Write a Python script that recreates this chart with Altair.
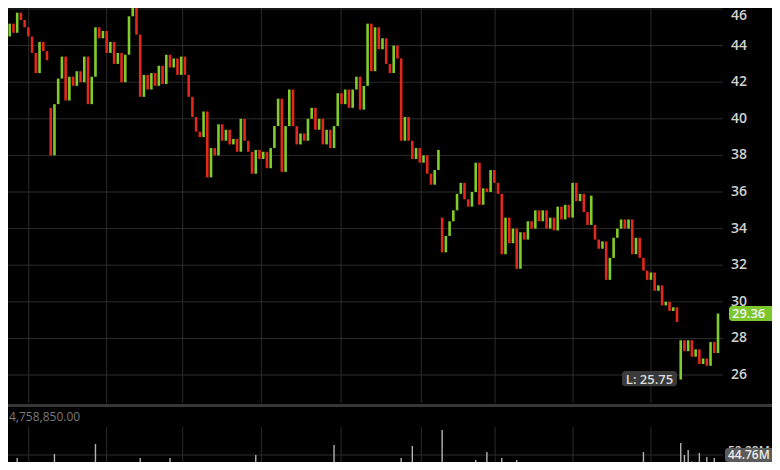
import altair as alt
import pandas as pd

# ---- data -------------------------------------------------------------
closes = [
    44.5, 45.2, 44.7, 45.8, 45.4, 45.0, 44.5, 43.6, 42.5, 44.2, 43.7, 43.2,
    38.0, 40.8, 42.2, 43.4, 41.0, 42.3, 41.8, 42.6, 42.0, 43.4, 40.8, 42.3,
    45.0, 44.4, 44.8, 43.6, 44.2, 43.0, 43.6, 42.0, 43.5, 45.6, 46.4, 44.6,
    41.2, 42.4, 41.6, 42.5, 41.8, 42.9, 41.9, 43.5, 42.8, 43.3, 42.4, 43.4,
    42.4, 41.2, 40.1, 39.3, 39.0, 40.4, 36.8, 38.4, 38.0, 39.7, 38.8, 39.4,
    38.6, 38.9, 38.2, 40.0, 38.8, 38.2, 37.0, 38.3, 37.8, 38.2, 37.3, 38.4,
    39.6, 41.1, 37.1, 39.6, 41.6, 39.6, 38.6, 39.2, 38.8, 40.0, 40.6, 39.4,
    40.0, 38.6, 39.4, 38.4, 39.6, 41.4, 40.8, 41.6, 40.6, 41.6, 42.3, 40.5,
    41.8, 45.2, 42.6, 45.0, 43.8, 44.4, 43.0, 42.5, 44.0, 43.3, 38.8, 40.1,
    38.8, 37.8, 38.4, 37.6, 38.0, 37.0, 36.4, 37.2, 38.3, 32.7, 33.6, 34.4,
    35.0, 35.9, 36.5, 35.6, 35.2, 36.0, 37.6, 35.3, 36.2, 36.0, 37.2, 36.5,
    35.9, 32.6, 34.6, 33.2, 34.0, 31.8, 33.8, 33.4, 34.4, 34.0, 35.0, 34.4,
    35.0, 34.0, 34.6, 33.9, 35.2, 34.5, 35.3, 34.6, 36.5, 35.5, 35.9, 34.9,
    34.2, 35.8, 33.4, 32.9, 33.3, 31.2, 32.4, 33.5, 34.0, 34.5, 34.0, 34.5,
    32.6, 33.5, 32.4, 31.7, 31.2, 31.6, 30.6, 30.9, 29.8, 30.0, 29.5, 29.7,
    28.9, 27.9, 27.3, 27.9, 27.0, 27.4, 26.6, 26.9, 26.5, 27.8, 27.2, 29.36,
]
# sessions that opened away from the previous close (gaps)
gap_index = [0, 12, 117, 158, 181]
gap_open = [45.0, 40.6, 34.6, 34.2, 25.75]

volumes = [
    30, 27, 33, 49.9, 31, 28, 26, 34, 32, 29, 27, 35,
    38, 53.1, 36, 30, 33, 29, 27, 31, 28, 30, 34, 29,
    61.1, 38, 32, 28, 30, 27, 29, 33, 35, 38, 40, 34,
    49.9, 35, 30, 28, 31, 29, 27, 30, 49.9, 32, 28, 30,
    29, 31, 33, 30, 28, 34, 44.2, 36, 31, 29, 30, 28,
    27, 30, 29, 31, 28, 30, 35, 52.3, 33, 29, 31, 30,
    29, 32, 36, 31, 33, 30, 28, 27, 29, 31, 30, 28,
    29, 31, 33, 35, 60.3, 36, 31, 29, 30, 28, 31, 33,
    30, 35, 42.6, 36, 33, 31, 29, 30, 32, 31, 49.9, 38,
    35, 59.5, 33, 31, 30, 32, 34, 31, 33, 72.4, 46.7, 36,
    33, 31, 30, 32, 29, 31, 48.3, 35, 33, 54.7, 31, 30,
    33, 49.9, 38, 33, 31, 48.3, 35, 32, 30, 29, 31, 30,
    28, 31, 30, 29, 32, 30, 46.7, 31, 33, 30, 29, 31,
    30, 33, 38, 45.8, 35, 39, 33, 31, 30, 29, 31, 30,
    36, 33, 35, 54.7, 33, 35, 34, 36, 38, 35, 37, 39,
    40, 61.9, 52.3, 56.3, 47, 45, 53.9, 46, 50.7, 44, 49.9, 44.76,
]

month_lines = [6.1, 27.0, 47.4, 68.5, 89.9, 111.4, 131.2, 152.1, 173.0]
price_ticks = [26, 28, 30, 32, 34, 36, 38, 40, 42, 44]
top_tick = [46]
last_price = 29.36
low_price = 25.75
vol_grid = [52.28]
vol_grid_label = ["52.28M"]
last_vol_label = "44.76M"
vol_header = "4,758,850.00"

# ---- build table ----------------------------------------------------------
gaps = dict(zip(gap_index, gap_open))
rows = []
prev = None
for i, c in enumerate(closes):
    o = gaps.get(i, prev)
    rows.append({"i": i, "open": o, "close": c,
                 "dir": "up" if c >= o else "down", "vol": volumes[i]})
    prev = c
df = pd.DataFrame(rows)

GREEN = "#80cc2a"
RED = "#e3271b"
GRID = "#2c2c2c"
LABEL = "#d2d2d2"
FONT = "Open Sans"

xs = alt.Scale(domain=[0, 191], range=[-7, 715], nice=False, zero=False)
ps = alt.Scale(domain=[26, 46], range=[367, 1], nice=False, zero=False)
vs = alt.Scale(domain=[0, 52.28], range=[512, 447], nice=False, zero=False)

one = pd.DataFrame({"a": [0]})
all_ticks = price_ticks + top_tick

price_grid = alt.Chart(pd.DataFrame({"p": all_ticks})).mark_rule(
    color=GRID, strokeWidth=1).encode(
    y=alt.Y("p:Q", scale=ps, axis=None), x=alt.value(0), x2=alt.value(715))

month_top = alt.Chart(pd.DataFrame({"m": month_lines})).mark_rule(
    color=GRID, strokeWidth=1).encode(
    x=alt.X("m:Q", scale=xs, axis=None), y=alt.value(0), y2=alt.value(395))

month_bot = alt.Chart(pd.DataFrame({"m": month_lines})).mark_rule(
    color=GRID, strokeWidth=1).encode(
    x=alt.X("m:Q", scale=xs, axis=None), y=alt.value(419), y2=alt.value(454))

vgrid = alt.Chart(pd.DataFrame({"v": vol_grid})).mark_rule(
    color=GRID, strokeWidth=1).encode(
    y=alt.Y("v:Q", scale=vs, axis=None), x=alt.value(0), x2=alt.value(715))

separator = alt.Chart(one).mark_rect(color="#383838").encode(
    x=alt.value(0), x2=alt.value(764), y=alt.value(396), y2=alt.value(399))

candles = alt.Chart(df).mark_bar(width=2.6, clip=True).encode(
    x=alt.X("i:Q", scale=xs, axis=None),
    y=alt.Y("open:Q", scale=ps, axis=None),
    y2="close:Q",
    color=alt.Color("dir:N", scale=alt.Scale(domain=["up", "down"], range=[GREEN, RED]),
                    legend=None),
)

vol_bars = alt.Chart(df).mark_bar(width=1.4, color="#b4b4b4", clip=True).encode(
    x=alt.X("i:Q", scale=xs, axis=None),
    y=alt.Y("vol:Q", scale=vs, axis=None),
    y2=alt.datum(0),
)

price_labels = alt.Chart(pd.DataFrame({"p": price_ticks, "t": [str(v) for v in price_ticks]})).mark_text(
    align="left", baseline="middle", fontSize=14, fontWeight=600, font=FONT, color=LABEL).encode(
    y=alt.Y("p:Q", scale=ps, axis=None), x=alt.value(723), text="t:N")

top_label = alt.Chart(pd.DataFrame({"p": top_tick, "t": [str(v) for v in top_tick]})).mark_text(
    align="left", baseline="top", fontSize=14, fontWeight=600, font=FONT, color=LABEL).encode(
    y=alt.Y("p:Q", scale=ps, axis=None), x=alt.value(723), text="t:N")

vol_label = alt.Chart(pd.DataFrame({"v": vol_grid, "t": vol_grid_label})).mark_text(
    align="left", baseline="middle", fontSize=12, fontWeight=600, font=FONT, color=LABEL, dy=-4).encode(
    y=alt.Y("v:Q", scale=vs, axis=None), x=alt.value(720), text="t:N")

header = alt.Chart(pd.DataFrame({"t": [vol_header]})).mark_text(
    align="left", baseline="middle", fontSize=12, font=FONT, color="#7a7a7a").encode(
    x=alt.value(1), y=alt.value(409), text="t:N")

last_box = alt.Chart(pd.DataFrame({"top": [last_price + 0.41], "bot": [last_price - 0.41]})).mark_rect(
    color="#7cc72c", cornerRadius=3).encode(
    y=alt.Y("top:Q", scale=ps, axis=None), y2="bot:Q", x=alt.value(721), x2=alt.value(772))

last_text = alt.Chart(pd.DataFrame({"p": [last_price], "t": [f"{last_price:.2f}"]})).mark_text(
    align="left", baseline="middle", fontSize=13, fontWeight=600, font=FONT, color="#f4f4f4").encode(
    y=alt.Y("p:Q", scale=ps, axis=None), x=alt.value(724), text="t:N")

low_box = alt.Chart(pd.DataFrame({"top": [low_price + 0.47], "bot": [low_price - 0.37]})).mark_rect(
    color="#3a3a3a", cornerRadius=3).encode(
    y=alt.Y("top:Q", scale=ps, axis=None), y2="bot:Q", x=alt.value(614), x2=alt.value(669))

low_text = alt.Chart(pd.DataFrame({"p": [low_price], "t": [f"L: {low_price:.2f}"]})).mark_text(
    align="center", baseline="middle", fontSize=13, fontWeight=600, font=FONT, color="#dcdcdc").encode(
    y=alt.Y("p:Q", scale=ps, axis=None), x=alt.value(641.5), text="t:N")

vol_box = alt.Chart(one).mark_rect(color="#5a5a5a", cornerRadius=3).encode(
    x=alt.value(717), x2=alt.value(768), y=alt.value(440), y2=alt.value(454))

vol_text = alt.Chart(pd.DataFrame({"t": [last_vol_label]})).mark_text(
    align="left", baseline="middle", fontSize=12, fontWeight=600, font=FONT, color="#ececec").encode(
    x=alt.value(720), y=alt.value(447), text="t:N")

chart = alt.layer(
    price_grid, month_top, month_bot, vgrid, separator,
    vol_bars, candles, price_labels, top_label, vol_label, header,
    last_box, last_text, low_box, low_text, vol_box, vol_text,
).resolve_scale(y="independent").properties(
    width=764, height=454,
    autosize=alt.AutoSizeParams(type="none"),
    padding=0,
    background="#000000",
).configure_view(strokeWidth=0)

chart.save("out.html", embed_options={"renderer": "svg", "actions": False})
